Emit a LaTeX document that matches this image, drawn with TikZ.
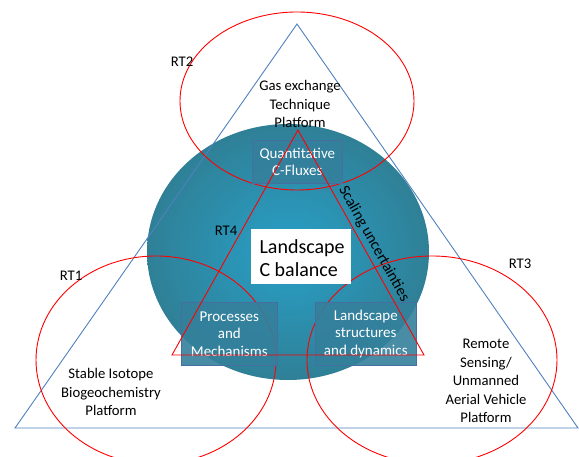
\documentclass[tikz,border=0pt]{standalone}
\usepackage{fontspec}
\setmainfont{Carlito}
\begin{document}
\begin{tikzpicture}[x=1pt,y=-1pt,
  tri/.style={draw={rgb,255:red,79;green,129;blue,189}, line width=0.9pt},
  rt/.style={draw=red, line width=0.9pt},
  cell/.style={draw={rgb,255:red,70;green,110;blue,160}, line width=0.6pt,
    fill={rgb,255:red,52;green,128;blue,156}, fill opacity=0.9, text opacity=1,
    text=white, align=center, font=\fontsize{15}{17.5}\selectfont,
    inner sep=0pt, anchor=north west},
  lbl/.style={font=\fontsize{14.7}{18.5}\selectfont, align=center}]
\useasboundingbox (0,0) rectangle (579,457);
\definecolor{tealout}{RGB}{47,128,150}
\definecolor{tealin}{RGB}{40,160,200}

% central disc
\shade[inner color=tealin, outer color=tealout] (288,252) ellipse [x radius=141, y radius=128];

% outer triangle
\coordinate (A) at (297,24);
\coordinate (B) at (15,428);
\coordinate (C) at (578,428);
\draw[tri] (A) -- (B) -- (C) -- cycle;

% research-theme ellipses
\draw[rt] (297,101) ellipse [x radius=117, y radius=89];
\draw[rt] (156,360) ellipse [x radius=120, y radius=104];
\draw[rt] (432,360) ellipse [x radius=125, y radius=104];

% boxes in the disc
\node[cell, minimum width=90pt, minimum height=43pt] (qc) at (252,140) {Quantitative\\C-Fluxes};
\node[cell, minimum width=96pt, minimum height=63pt] (pm) at (181,302) {Processes\\and\\Mechanisms};
\node[cell, minimum width=101pt, minimum height=63pt] (ls) at (315,302) {Landscape\\structures\\and dynamics};
\node[fill=white, minimum width=100pt, minimum height=55pt, inner sep=0pt, anchor=north west] (lc) at (251,229) {};
\node[anchor=west, align=left, font=\fontsize{20}{23}\selectfont] (lct) at (256,258) {Landscape\\C balance};

% inner triangle
\coordinate (P) at (298,130);
\coordinate (Q) at (172,355);
\coordinate (R) at (424,355);
\draw[rt] (P) -- (Q) -- (R) -- cycle;
\node[font=\fontsize{15.5}{18}\selectfont, rotate=-60.75, inner sep=0pt] (su) at (374,244) {Scaling uncertainties};

% labels
\node[lbl] (rt2) at (182,62) {RT2};
\node[lbl] (rt1) at (71,276) {RT1};
\node[lbl] (rt3) at (520,264) {RT3};
\node[lbl] (rt4) at (226,231) {RT4};
\node[lbl] (gas) at (300,104) {Gas exchange\\Technique\\Platform};
\node[lbl] (sib) at (111,392) {Stable Isotope\\Biogeochemistry\\Platform};
\node[lbl] (rs) at (486,381) {Remote\\Sensing/\\Unmanned\\Aerial Vehicle\\Platform};
\end{tikzpicture}
\end{document}
